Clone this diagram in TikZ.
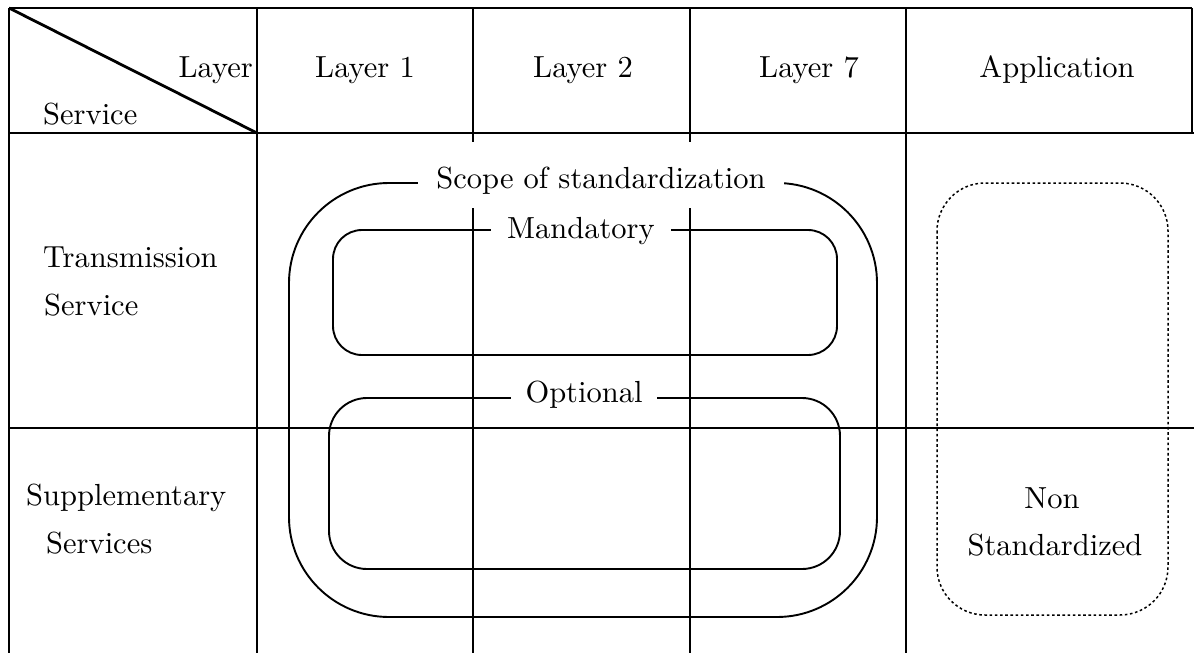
\documentclass[tikz,border=0pt]{standalone}
\usepackage{fontspec}
\setmainfont{lmroman10-regular.otf}
\begin{document}
\begin{tikzpicture}[x=1pt,y=-1pt,
  tbl/.style={line width=2.8pt},
  rr/.style={line width=1.9pt},
  dotbox/.style={line width=1.5pt, dash pattern=on 2.6pt off 2.6pt, rounded corners=48pt},
  txt/.style={font=\fontsize{30.5}{36}\selectfont, inner sep=0pt},
  lbl/.style={txt, fill=white, inner xsep=16pt, inner ysep=2pt, anchor=base}]
\useasboundingbox (0,0) rectangle (1194,653);
% table lines
\draw[tbl] (9,8) -- (1192,8);
\draw[tbl] (1192,8) -- (1192,133);
\draw[tbl] (9,133) -- (1194,133);
\draw[tbl] (9,428) -- (1194,428);
\draw[tbl] (9,8) -- (9,653);
\draw[tbl] (257,8) -- (257,653);
\draw[tbl] (906,8) -- (906,653);
\draw[tbl] (473,8) -- (473,142);
\draw[tbl] (473,208) -- (473,653);
\draw[tbl] (690,8) -- (690,142);
\draw[tbl] (690,208) -- (690,653);
\draw[tbl] (9,8) -- (257,133);
% header texts
\node[txt, anchor=base east] (layer) at (253,77) {Layer};
\node[txt, anchor=base west] (service) at (43,124) {Service};
\node[txt, anchor=base] (l1) at (365,77) {Layer 1};
\node[txt, anchor=base] (l2) at (583,77) {Layer 2};
\node[txt, anchor=base] (l7) at (809,77) {Layer 7};
\node[txt, anchor=base] (app) at (1057,77) {Application};
% row texts
\node[txt, anchor=base west] (trans) at (43,267) {Transmission};
\node[txt, anchor=base west] (trans2) at (44,315) {Service};
\node[txt, anchor=base west] (supp) at (26,505) {Supplementary};
\node[txt, anchor=base west] (supp2) at (46,553) {Services};
% rounded boxes
\draw[rr, rounded corners=100pt] (289,183) rectangle (877,617);
\draw[rr, rounded corners=29pt] (333,230) rectangle (837,355);
\draw[rr, rounded corners=38pt] (329,398) rectangle (840,569);
\draw[dotbox] (937,183) rectangle (1168,615);
% labels
\node[lbl, inner xsep=18pt] (scope) at (601,188) {Scope of standardization};
\node[lbl] (mand) at (581,238) {Mandatory};
\node[lbl, inner xsep=15pt] (opt) at (584,402) {Optional};
\node[txt, anchor=base] (non) at (1052,508) {Non};
\node[txt, anchor=base] (std) at (1055,555) {Standardized};
\end{tikzpicture}
\end{document}
